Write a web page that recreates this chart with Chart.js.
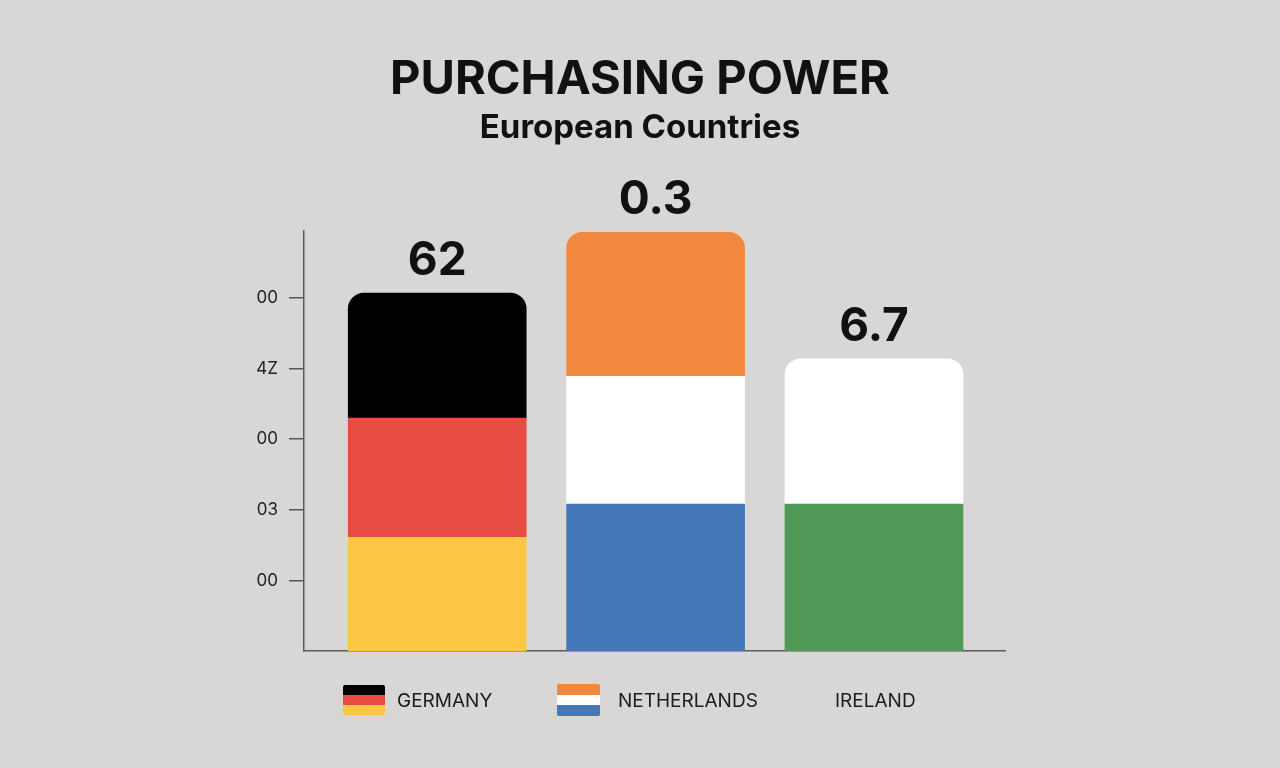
<!DOCTYPE html>
<html>
<head>
<meta charset="utf-8">
<title>Purchasing Power</title>
<script src="https://cdn.jsdelivr.net/npm/chart.js@4.4.1/dist/chart.umd.min.js"></script>
<style>
  html, body { margin: 0; padding: 0; background: #d9d7d5; }
  #wrap { position: relative; width: 1280px; height: 768px; }
  .legend-item { position: absolute; font-family: Inter, "Noto Sans", sans-serif; font-size: 19px; color: #1c1c1c; line-height: 24px; }
  .flag { position: absolute; border-radius: 2px; overflow: hidden; }
  .flag div { width: 100%; height: 33.34%; }
</style>
</head>
<body>
<div id="wrap">
  <canvas id="chart" width="1280" height="768"></canvas>
  <div class="flag" style="left:343px; top:685px; width:42px; height:30px;">
    <div style="background:#000"></div><div style="background:#e84c43"></div><div style="background:#fdc745"></div>
  </div>
  <div class="legend-item" style="left:397px; top:689px;">GERMANY</div>
  <div class="flag" style="left:557px; top:684px; width:43px; height:32px;">
    <div style="background:#f0883d"></div><div style="background:#fff"></div><div style="background:#4478b6"></div>
  </div>
  <div class="legend-item" style="left:618px; top:689px;">NETHERLANDS</div>
  <div class="legend-item" style="left:835px; top:689px;">IRELAND</div>
</div>
<script>
const countries = ['Germany', 'Netherlands', 'Ireland'];
// flag bands, bottom to top
const bottomBand = [1.61, 2.08, 2.08];
const middleBand = [1.69, 1.81, 2.06];
const topBand = [1.77, 2.04, null];
const valueLabels = ['62', '0.3', '6.7'];
const yTickLabels = ['', '00', '03', '00', '4Z', '00'];

const bottomColors = ['#fdc745', '#4478b6', '#4f9956'];
const middleColors = ['#e84c43', '#ffffff', '#ffffff'];
const topColors = ['#000000', '#f0883d', '#ffffff'];

const FONT = 'Inter, "Noto Sans", sans-serif';

function points(values) {
    return values.map((v, i) => ({ x: i + 1, y: v }));
}

// round the top of whichever band ends the stack
function topRadius(bandIndex) {
    return ctx => {
        const i = ctx.dataIndex;
        const isTop = bandIndex === 2 || (bandIndex === 1 && topBand[i] == null);
        return isTop ? { topLeft: 16, topRight: 16, bottomLeft: 0, bottomRight: 0 } : 0;
    };
}

const valueLabelPlugin = {
    id: 'valueLabels',
    afterDatasetsDraw(chart) {
        const ctx = chart.ctx;
        ctx.save();
        ctx.font = 'bold 46px ' + FONT;
        ctx.fillStyle = '#111';
        ctx.textAlign = 'center';
        ctx.textBaseline = 'alphabetic';
        countries.forEach((c, i) => {
            let top = Infinity, x = 0;
            chart.data.datasets.forEach((ds, di) => {
                if (ds.data[i].y == null) return;
                const el = chart.getDatasetMeta(di).data[i];
                if (el.y < top) { top = el.y; x = el.x; }
            });
            ctx.fillText(valueLabels[i], x, top - 18);
        });
        ctx.restore();
    }
};

new Chart(document.getElementById('chart'), {
    type: 'bar',
    data: {
        datasets: [
            { label: 'bottom', data: points(bottomBand), backgroundColor: bottomColors, borderRadius: topRadius(0) },
            { label: 'middle', data: points(middleBand), backgroundColor: middleColors, borderRadius: topRadius(1) },
            { label: 'top', data: points(topBand), backgroundColor: topColors, borderRadius: topRadius(2) }
        ]
    },
    options: {
        responsive: false,
        animation: false,
        barThickness: 178,
        layout: { padding: { left: 0, right: 0, top: 0, bottom: 117 } },
        plugins: {
            legend: { display: false },
            tooltip: { enabled: false },
            title: {
                display: true,
                text: 'PURCHASING POWER',
                color: '#111',
                font: { family: FONT, size: 47, weight: 'bold' },
                padding: { top: 52, bottom: 0 }
            },
            subtitle: {
                display: true,
                text: 'European Countries',
                color: '#111',
                font: { family: FONT, size: 33, weight: 'bold' },
                padding: { top: 0, bottom: 83 }
            }
        },
        scales: {
            x: {
                type: 'linear',
                stacked: true,
                offset: false,
                min: 0.39,
                max: 3.6,
                ticks: { display: false },
                grid: { display: false, drawTicks: false, offset: false },
                border: { display: true, color: '#5a5a5a', width: 1.5 },
                afterFit: s => { s.height = 0; }
            },
            y: {
                stacked: true,
                min: 0,
                max: 5.95,
                ticks: {
                    stepSize: 1,
                    autoSkip: false,
                    padding: 11,
                    color: '#222',
                    font: { family: FONT, size: 17 },
                    callback: v => yTickLabels[v] || ''
                },
                afterBuildTicks: s => {
                    s.ticks = s.ticks.filter(t => Number.isInteger(t.value) && t.value > 0);
                },
                grid: {
                    drawOnChartArea: false,
                    drawTicks: true,
                    tickLength: 15,
                    tickColor: '#555',
                    lineWidth: 1.5
                },
                border: { display: true, color: '#5a5a5a', width: 1.5 },
                afterFit: s => { s.width = 304; }
            },
            // empty right-hand axis, only reserves the space to the right of the plot
            yRight: {
                position: 'right',
                ticks: { display: false },
                grid: { display: false, drawTicks: false },
                border: { display: false },
                afterFit: s => { s.width = 275; }
            }
        }
    },
    plugins: [valueLabelPlugin]
});
</script>
</body>
</html>
